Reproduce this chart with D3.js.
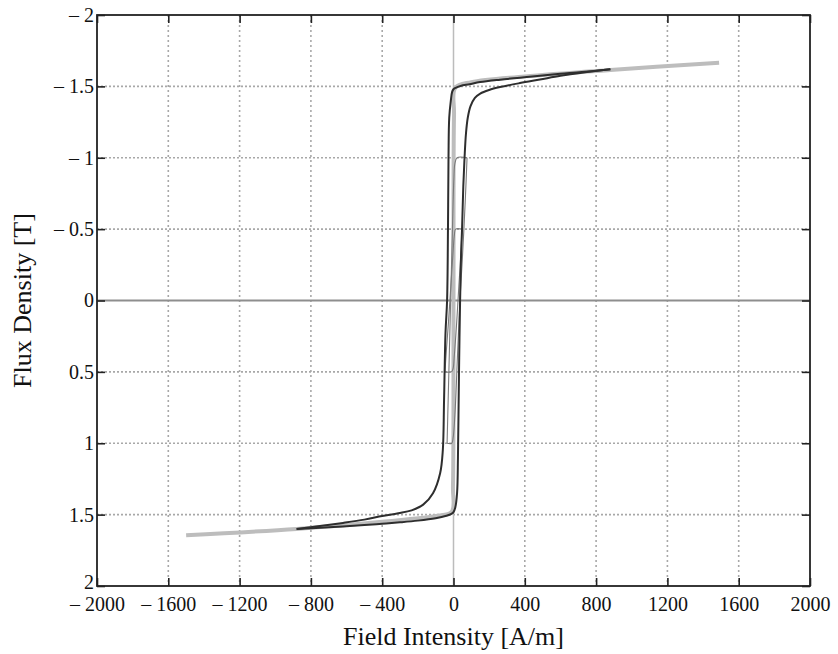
<!DOCTYPE html>
<html>
<head>
<meta charset="utf-8">
<script src="https://cdn.jsdelivr.net/npm/d3@7/dist/d3.min.js"></script>
<style>
  body { margin: 0; background: #fff; }
</style>
</head>
<body>
<div class="chart"></div>
<script>
// tick values
const xTicks = [-2000, -1600, -1200, -800, -400, 0, 400, 800, 1200, 1600, 2000];
const yTicks = [-2, -1.5, -1, -0.5, 0, 0.5, 1, 1.5, 2];

// curves, [H, B]
const anhysteretic = [[-1500,1.645],[-880,1.60],[-400,1.55],[-100,1.51],[-10,1.48],[-3,1.3],[0,0],[3,-1.3],[10,-1.49],[100,-1.53],[400,-1.57],[880,-1.615],[1490,-1.665]];

const majorRight = [[-880,1.600],[-700,1.588],[-500,1.573],[-400,1.564],[-300,1.554],[-200,1.542],[-100,1.525],[-40,1.508],[-12,1.495],[0,1.482],[10,1.45],[20,1.35],[25,1.10],[28,0.80],[32,0.40],[37,0.00],[42,-0.30],[48,-0.50],[55,-0.80],[62,-1.00],[70,-1.17],[80,-1.28],[95,-1.36],[120,-1.42],[150,-1.45],[200,-1.475],[261,-1.495],[373,-1.523],[485,-1.548],[600,-1.574],[720,-1.596],[880,-1.62]];

const majorLeft = [[880,-1.62],[720,-1.60],[600,-1.588],[485,-1.575],[373,-1.561],[261,-1.547],[149,-1.53],[90,-1.515],[40,-1.503],[12,-1.49],[0,-1.48],[-8,-1.46],[-15,-1.40],[-24,-1.28],[-28,-1.0],[-31,-0.5],[-36,0.0],[-45,0.23],[-53,0.70],[-60,1.05],[-75,1.21],[-115,1.35],[-170,1.43],[-235,1.47],[-310,1.49],[-400,1.51],[-500,1.535],[-620,1.558],[-750,1.58],[-880,1.60]];

const minor1Rise = [[-36,1.0],[-30,0.7],[-22,0.3],[-14,-0.1],[-6,-0.5],[2,-0.85],[8,-0.96],[20,-1.0],[76,-1.0]];
const minor1Fall = [[76,-1.0],[66,-0.7],[50,-0.3],[36,0.0],[22,0.4],[8,0.8],[-2,0.96],[-10,1.0],[-36,1.0]];
const minor2Rise = [[-48,0.5],[-40,0.35],[-28,0.15],[-15,-0.1],[-2,-0.35],[5,-0.46],[12,-0.5],[48,-0.5]];
const minor2Fall = [[48,-0.5],[40,-0.3],[30,-0.1],[18,0.15],[5,0.38],[-3,0.48],[-12,0.5],[-48,0.5]];

const SERIF = "\"Liberation Serif\", \"Times New Roman\", Tinos, serif";

const W = 838, H = 654;
const margin = { top: 15, right: 28, bottom: 68, left: 97 };
const width = W - margin.left - margin.right;
const height = H - margin.top - margin.bottom;

const svg = d3.select(".chart")
    .append("svg")
    .attr("width", W)
    .attr("height", H);

const g = svg.append("g")
    .attr("transform", `translate(${margin.left},${margin.top})`);

const x = d3.scaleLinear().domain([-2000, 2000]).range([0, width]);
const y = d3.scaleLinear().domain([-2, 2]).range([0, height]);

const fmt = v => v < 0 ? "\u2013 " + Math.abs(v) : String(v);

// grid
g.selectAll(".vgrid")
    .data(xTicks.filter(v => v !== 0 && Math.abs(v) !== 2000))
    .enter()
    .append("line")
    .attr("x1", d => x(d)).attr("x2", d => x(d))
    .attr("y1", 0).attr("y2", height)
    .attr("stroke", "#a8a8a8")
    .attr("stroke-width", 1.6)
    .attr("stroke-dasharray", "2,3");

g.selectAll(".hgrid")
    .data(yTicks.filter(v => v !== 0 && Math.abs(v) !== 2))
    .enter()
    .append("line")
    .attr("x1", 0).attr("x2", width)
    .attr("y1", d => y(d)).attr("y2", d => y(d))
    .attr("stroke", "#a8a8a8")
    .attr("stroke-width", 1.6)
    .attr("stroke-dasharray", "2,2");

// zero lines
g.append("line")
    .attr("x1", x(0)).attr("x2", x(0))
    .attr("y1", 0).attr("y2", height)
    .attr("stroke", "#bcbcbc")
    .attr("stroke-width", 1.5);

g.append("line")
    .attr("x1", 0).attr("x2", width)
    .attr("y1", y(0)).attr("y2", y(0))
    .attr("stroke", "#8e8e8e")
    .attr("stroke-width", 2);

const lineFree = d3.line()
    .x(d => x(d[0]))
    .y(d => y(d[1]))
    .curve(d3.curveCatmullRom.alpha(0.5));

g.append("path")
    .attr("d", lineFree(anhysteretic))
    .attr("fill", "none")
    .attr("stroke", "#bdbdbd")
    .attr("stroke-width", 4);

[minor1Rise, minor1Fall, minor2Rise, minor2Fall].forEach(c => {
    g.append("path")
        .attr("d", lineFree(c))
        .attr("fill", "none")
        .attr("stroke", "#7a7a7a")
        .attr("stroke-width", 1.1);
});

[majorRight, majorLeft].forEach(c => {
    g.append("path")
        .attr("d", lineFree(c))
        .attr("fill", "none")
        .attr("stroke", "#2e2e2e")
        .attr("stroke-width", 2);
});

// frame + axes
const axB = g.append("g")
    .attr("transform", `translate(0,${height})`)
    .call(d3.axisBottom(x).tickValues(xTicks).tickFormat(fmt).tickSizeInner(-8).tickSizeOuter(0).tickPadding(11));
const axT = g.append("g")
    .call(d3.axisTop(x).tickValues(xTicks).tickFormat("").tickSizeInner(-8).tickSizeOuter(0));
const axL = g.append("g")
    .call(d3.axisLeft(y).tickValues(yTicks).tickFormat(fmt).tickSizeInner(-8).tickSizeOuter(0).tickPadding(3));
const axR = g.append("g")
    .attr("transform", `translate(${width},0)`)
    .call(d3.axisRight(y).tickValues(yTicks).tickFormat("").tickSizeInner(-8).tickSizeOuter(0));

[axB, axT, axL, axR].forEach(a => {
    a.select(".domain").remove();
    a.selectAll("line").attr("stroke", "#222").attr("stroke-width", 1.6);
    a.selectAll("text")
        .style("font-family", SERIF)
        .style("font-size", "20px")
        .attr("fill", "#111");
});

// bottom "2" sits just above the corner so it does not run into "– 2000"
axL.selectAll(".tick")
    .filter(d => d === 2)
    .select("text")
    .attr("dy", "0.1em");

g.append("rect")
    .attr("x", 0).attr("y", 0)
    .attr("width", width).attr("height", height)
    .attr("fill", "none")
    .attr("stroke", "#222")
    .attr("stroke-width", 1.8);

svg.append("text")
    .attr("x", margin.left + x(0))
    .attr("y", 645)
    .attr("text-anchor", "middle")
    .style("font-family", SERIF)
    .style("font-size", "26px")
    .attr("fill", "#111")
    .text("Field Intensity [A/m]");

svg.append("text")
    .attr("transform", `translate(31,${margin.top + y(0)}) rotate(-90)`)
    .attr("text-anchor", "middle")
    .style("font-family", SERIF)
    .style("font-size", "26px")
    .attr("fill", "#111")
    .text("Flux Density [T]");
</script>
</body>
</html>
